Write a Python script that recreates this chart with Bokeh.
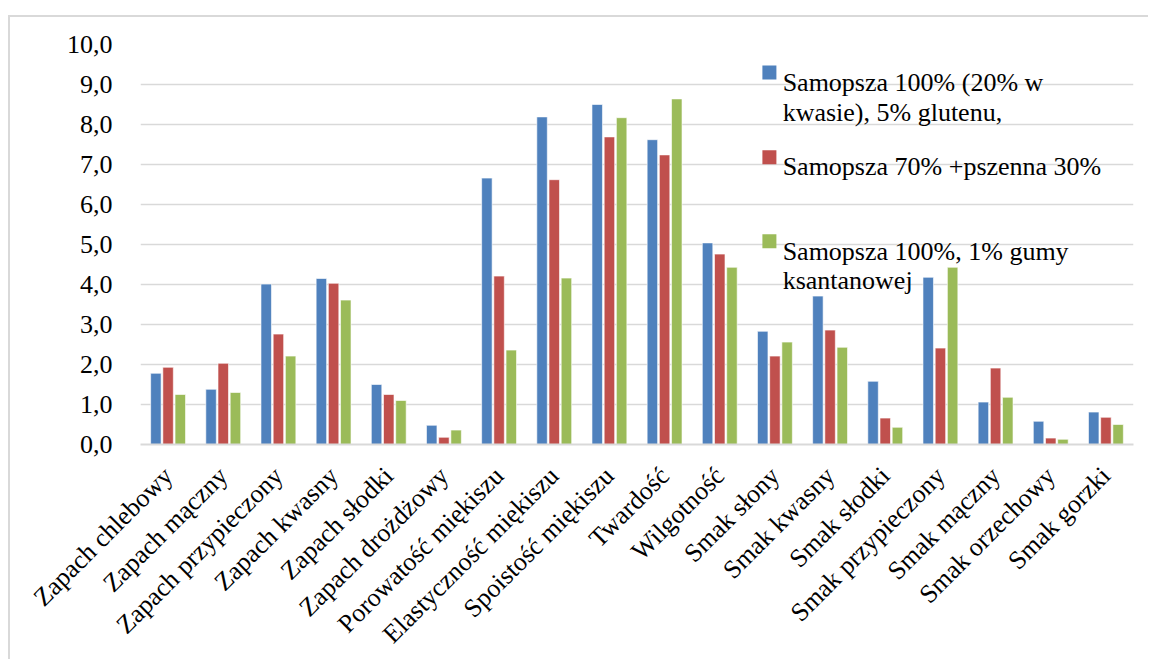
import math

from bokeh.embed import file_html
from bokeh.models import ColumnDataSource, FactorRange, FixedTicker, Label, Range1d
from bokeh.plotting import figure
from bokeh.resources import INLINE
from bokeh.transform import dodge

# Sensory attributes of the breads (x axis)
categories = [
    "Zapach chlebowy", "Zapach mączny", "Zapach przypieczony", "Zapach kwasny",
    "Zapach słodki", "Zapach drożdżowy", "Porowatość miękiszu", "Elastyczność miękiszu",
    "Spoistość miękiszu", "Twardość", "Wilgotność", "Smak słony", "Smak kwasny",
    "Smak słodki", "Smak przypieczony", "Smak mączny", "Smak orzechowy", "Smak gorzki",
]

# Mean scores for each bread variant
samopsza_gluten = [1.78, 1.38, 4.01, 4.15, 1.50, 0.48, 6.66, 8.19, 8.50, 7.62,
                   5.04, 2.83, 3.71, 1.58, 4.18, 1.06, 0.58, 0.81]
samopsza_pszenna = [1.93, 2.03, 2.76, 4.03, 1.25, 0.18, 4.21, 6.62, 7.69, 7.24,
                    4.76, 2.21, 2.86, 0.66, 2.41, 1.91, 0.16, 0.68]
samopsza_guma = [1.25, 1.30, 2.21, 3.61, 1.10, 0.36, 2.36, 4.16, 8.17, 8.64,
                 4.43, 2.56, 2.43, 0.43, 4.43, 1.18, 0.13, 0.50]

series_names = [
    ["Samopsza 100% (20% w", "kwasie), 5% glutenu,"],
    ["Samopsza 70% +pszenna 30%"],
    ["Samopsza 100%, 1% gumy", "ksantanowej"],
]
series_colors = ["#4F81BD", "#C0504D", "#9BBB59"]

y_ticks = [0, 1, 2, 3, 4, 5, 6, 7, 8, 9, 10]
y_tick_labels = {t: f"{t},0" for t in y_ticks}

AXIS_FONT = "Liberation Serif"
TEXT_FONT = "Times New Roman"
SIZE = "26px"

source = ColumnDataSource(dict(
    cat=categories,
    s1=samopsza_gluten,
    s2=samopsza_pszenna,
    s3=samopsza_guma,
))

p = figure(
    x_range=FactorRange(*categories, range_padding=0),
    y_range=Range1d(0, 10),
    width=1140, height=644,
    min_border_left=130, min_border_right=17,
    min_border_top=27, min_border_bottom=217,
    output_backend="svg", toolbar_location=None,
)
p.styles = {
    "margin-left": "8px", "margin-top": "15px",
    "border-left": "2px solid #d9d9d9", "border-top": "2px solid #d9d9d9",
}
p.outline_line_color = None
p.background_fill_color = "white"
p.border_fill_color = "white"

offsets = [-0.221, 0.0, 0.221]
for col, off, color in zip(["s1", "s2", "s3"], offsets, series_colors):
    p.vbar(
        x=dodge("cat", off, range=p.x_range), top=col, width=0.19, bottom=0,
        source=source, fill_color=color, line_color="white", line_alpha=0.6,
        line_width=1,
    )

# grid and axes
p.xgrid.grid_line_color = None
p.ygrid.grid_line_color = "#d9d9d9"
p.ygrid.grid_line_width = 1.5
p.ygrid.ticker = FixedTicker(ticks=y_ticks)

p.yaxis.ticker = FixedTicker(ticks=y_ticks)
p.yaxis.major_label_overrides = y_tick_labels
p.yaxis.axis_line_color = None
p.yaxis.major_tick_line_color = None
p.yaxis.minor_tick_line_color = None
p.yaxis.major_label_standoff = 22
p.yaxis.major_label_text_font = TEXT_FONT
p.yaxis.major_label_text_font_size = SIZE
p.yaxis.major_label_text_color = "black"

p.xaxis.axis_line_color = "#d9d9d9"
p.xaxis.axis_line_width = 2
p.xaxis.major_tick_line_color = None
p.xaxis.minor_tick_line_color = None
p.xaxis.major_label_orientation = math.pi / 4
p.xaxis.major_label_standoff = 21
p.xaxis.major_label_text_font = AXIS_FONT
p.xaxis.major_label_text_font_size = SIZE
p.xaxis.major_label_text_color = "black"

# legend drawn inside the plot area, upper right
legend_x_marker = 11.40
legend_x_text = 11.64
marker_y = [9.30, 7.18, 5.08]
line_y = [[9.06, 8.31], [6.95], [4.83, 4.10]]
p.scatter(x=[legend_x_marker] * 3, y=marker_y, marker="square", size=14,
          fill_color=series_colors, line_color=None)
for lines, ys in zip(series_names, line_y):
    for txt, yy in zip(lines, ys):
        p.add_layout(Label(
            x=legend_x_text, y=yy, text=txt, text_font=TEXT_FONT,
            text_font_size=SIZE, text_color="black", text_baseline="alphabetic",
            text_align="left",
        ))

open("out.html", "w").write(file_html(p, INLINE))
